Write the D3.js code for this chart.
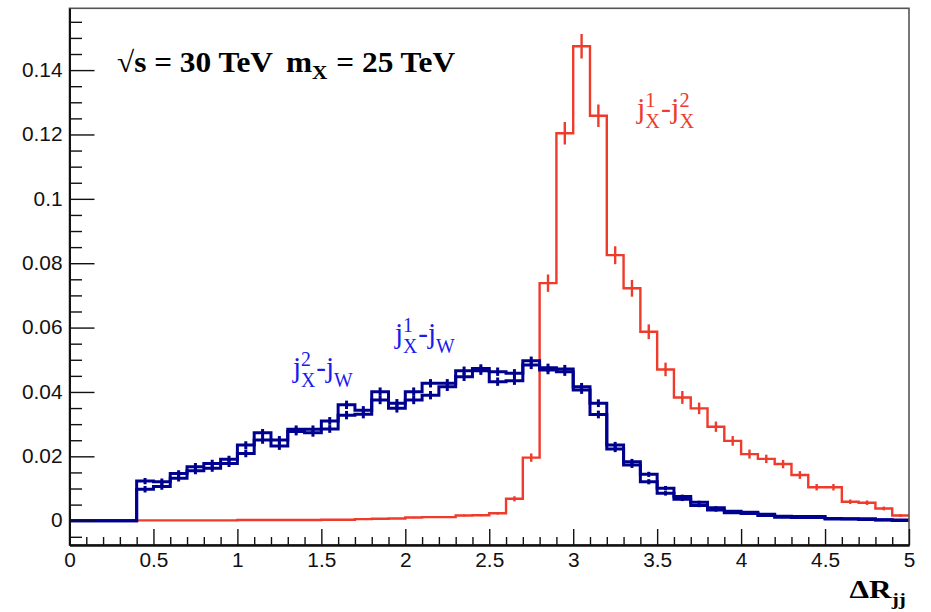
<!DOCTYPE html>
<html><head><meta charset="utf-8">
<script src="https://cdn.jsdelivr.net/npm/d3@7"></script>
<style>body{margin:0;background:#fff}svg{display:block}</style>
</head><body>
<svg id="c" width="931" height="612"></svg>
<script>
// ---- data ----
const binStart = [0.0,0.1,0.2,0.3,0.4,0.5,0.6,0.7,0.8,0.9,1.0,1.1,1.2,1.3,1.4,1.5,1.6,1.7,1.8,1.9,
  2.0,2.1,2.2,2.3,2.4,2.5,2.6,2.7,2.8,2.9,3.0,3.1,3.2,3.3,3.4,3.5,3.6,3.7,3.8,3.9,
  4.0,4.1,4.2,4.3,4.4,4.5,4.6,4.7,4.8,4.9];
const binWidth = 0.1;
const xMin = 0, xMax = 5;

// j_X^1 - j_X^2 (red)
const redVals = [0,0,0,0,0.0001,0.0001,0.0001,0.0001,0.0001,0.0001,
  0.0002,0.0002,0.0002,0.0002,0.0002,0.0003,0.0003,0.0005,0.0006,0.0007,
  0.0010,0.0011,0.0011,0.0016,0.0017,0.0023,0.0068,0.0196,0.0738,0.1204,
  0.1474,0.1258,0.0825,0.0722,0.0587,0.0470,0.0383,0.0349,0.0292,0.0248,
  0.0207,0.0192,0.0176,0.0142,0.0104,0.0104,0.0059,0.0056,0.0038,0.0016];
const redErr = [0,0,0,0,0,0,0,0,0,0,
  0,0,0,0,0,0,0,0,0,0,
  0.0002,0.0002,0.0002,0.0003,0.0003,0.0004,0.0008,0.0013,0.0027,0.0035,
  0.0038,0.0035,0.0028,0.0026,0.0023,0.0021,0.0020,0.0018,0.0016,0.0015,
  0.0014,0.0013,0.0013,0.0012,0.0010,0.0010,0.0007,0.0007,0.0006,0.0004];

// j_X^2 - j_W (blue)
const blueAVals = [0,0,0,0,0.0123,0.0121,0.0147,0.0168,0.0178,0.0191,
  0.0235,0.0273,0.0251,0.0284,0.0284,0.0310,0.0360,0.0343,0.0401,0.0365,
  0.0401,0.0427,0.0427,0.0466,0.0473,0.0463,0.0458,0.0497,0.0475,0.0471,
  0.0416,0.0365,0.0235,0.0183,0.0144,0.0101,0.0075,0.0057,0.0040,0.0029,
  0.0026,0.0020,0.0014,0.0013,0.0013,0.0007,0.0006,0.0006,0.0003,0.0002];
// j_X^1 - j_W (blue)
const blueBVals = [0,0,0,0,0.0098,0.0106,0.0132,0.0155,0.0163,0.0178,
  0.0209,0.0251,0.0232,0.0277,0.0273,0.0285,0.0328,0.0331,0.0375,0.0349,
  0.0375,0.0390,0.0416,0.0447,0.0466,0.0432,0.0435,0.0484,0.0468,0.0463,
  0.0406,0.0330,0.0223,0.0173,0.0121,0.0085,0.0067,0.0047,0.0033,0.0025,
  0.0022,0.0016,0.0011,0.0010,0.0010,0.0005,0.0005,0.0004,0.0002,0.0001];
const blueErr = [0,0,0,0,0.0010,0.0010,0.0010,0.0011,0.0011,0.0011,
  0.0012,0.0012,0.0012,0.0012,0.0012,0.0012,0.0013,0.0013,0.0013,0.0013,
  0.0013,0.0013,0.0013,0.0013,0.0013,0.0013,0.0013,0.0013,0.0013,0.0013,
  0.0012,0.0012,0.0010,0.0009,0.0008,0.0007,0.0006,0.0005,0.0005,0.0004,
  0.0004,0.0003,0.0003,0.0003,0.0003,0.0002,0.0002,0.0002,0.0001,0.0001];

const xMajorTicks = [0,0.5,1,1.5,2,2.5,3,3.5,4,4.5,5];
const xMajorLabels = ["0","0.5","1","1.5","2","2.5","3","3.5","4","4.5","5"];
const yMajorTicks = [0,0.02,0.04,0.06,0.08,0.1,0.12,0.14];
const yMajorLabels = ["0","0.02","0.04","0.06","0.08","0.1","0.12","0.14"];
const yDomain = [-0.00755, 0.1592];

// ---- layout ----
const L = 69.5, R = 909, T = 8.3, B = 545;
const RED = "#ee3b2b", DBLUE = "#00008f", LBLUE = "#1a1aee";
const SERIF = "'Liberation Serif','Times New Roman',Times,serif";
const SANS = "'Liberation Sans',Arial,Helvetica,sans-serif";
const SX = 1.07; // horizontal stretch of glyphs seen in the reference

const svg = d3.select("#c");
const x = d3.scaleLinear().domain([xMin, xMax]).range([L, R]);
const y = d3.scaleLinear().domain(yDomain).range([B, T]);

svg.append("rect").attr("width",931).attr("height",612).attr("fill","#fff");

svg.append("clipPath").attr("id","clip").append("rect")
  .attr("x",L).attr("y",T).attr("width",R-L).attr("height",B-T);
const plot = svg.append("g").attr("clip-path","url(#clip)");

function histPts(vals){
  const pts = binStart.map((b,i)=>[b, vals[i]]);
  pts.push([xMax, vals[vals.length-1]]);
  return pts;
}
const stepLine = d3.line().x(d=>x(d[0])).y(d=>y(d[1])).curve(d3.curveStepAfter);

function drawHist(vals, errs, color, lw){
  plot.append("path").attr("d", stepLine(histPts(vals)))
    .attr("fill","none").attr("stroke",color).attr("stroke-width",lw)
    .attr("stroke-linejoin","miter");
  plot.append("g").selectAll("line").data(binStart.map((b,i)=>({c:b+binWidth/2,v:vals[i],e:errs[i]})).filter(d=>d.e>0))
    .join("line")
    .attr("x1",d=>x(d.c)).attr("x2",d=>x(d.c))
    .attr("y1",d=>y(d.v-d.e)).attr("y2",d=>y(d.v+d.e))
    .attr("stroke",color).attr("stroke-width",lw);
}
drawHist(redVals, redErr, RED, 2.4);
drawHist(blueBVals, blueErr, DBLUE, 3);
drawHist(blueAVals, blueErr, DBLUE, 3);

// frame
svg.append("rect").attr("x",L).attr("y",T).attr("width",R-L).attr("height",B-T)
  .attr("fill","none").attr("stroke","#555").attr("stroke-width",1.6);

// axes
const xMinor = d3.range(0, 51).map(i=>i/10).filter(v=>Math.abs(v*2-Math.round(v*2))>1e-6);
const yMinor = d3.range(-1, 32).map(i=>i*0.005).filter(v=>Math.abs(v/0.02-Math.round(v/0.02))>1e-6);

function styleAxis(g){
  g.select(".domain").attr("stroke","#111").attr("stroke-width",1.8);
  g.selectAll(".tick line").attr("stroke","#111").attr("stroke-width",1.4);
  g.selectAll(".tick text").attr("fill","#111").style("font-family",SANS).style("font-size","19.5px")
    .attr("transform",`scale(${SX},1)`);
}
const gx = svg.append("g").attr("transform",`translate(0,${B})`);
gx.append("g").call(d3.axisBottom(x).tickValues(xMinor).tickSize(-8).tickSizeOuter(0).tickFormat(""))
  .call(styleAxis);
gx.append("g").call(d3.axisBottom(x).tickValues(xMajorTicks).tickSize(-16).tickSizeOuter(0).tickPadding(8)
  .tickFormat((d,i)=>xMajorLabels[i])).call(styleAxis);

const gy = svg.append("g").attr("transform",`translate(${L},0)`);
gy.append("g").call(d3.axisLeft(y).tickValues(yMinor).tickSize(-12.5).tickSizeOuter(0).tickFormat(""))
  .call(styleAxis);
gy.append("g").call(d3.axisLeft(y).tickValues(yMajorTicks).tickSize(-25).tickSizeOuter(0).tickPadding(6.5)
  .tickFormat((d,i)=>yMajorLabels[i])).call(styleAxis);

// ---- latex-like text helper ----
function latex(x0, base, tokens, color, fs, weight, sx, anchorRight){
  const outer = svg.append("g");
  const g = outer.append("g");
  let cx = 0;
  const sfs = fs*0.68;
  tokens.forEach(tok=>{
    if (tok.gap){ cx += tok.gap; return; }
    if (tok.n !== undefined){
      const t = g.append("text").attr("x",cx).attr("y",0).attr("fill",color)
        .style("font-family",SERIF).style("font-size",fs+"px").style("font-weight",weight)
        .style("white-space","pre").text(tok.n);
      cx += t.node().getComputedTextLength();
    } else {
      let w = 0;
      if (tok.sup){
        const t = g.append("text").attr("x",cx).attr("y",-fs*0.38).attr("fill",color)
          .style("font-family",SERIF).style("font-size",sfs+"px").style("font-weight",weight).text(tok.sup);
        w = Math.max(w, t.node().getComputedTextLength());
      }
      if (tok.sub){
        const t = g.append("text").attr("x",cx).attr("y",fs*(tok.subShift||0.32)).attr("fill",color)
          .style("font-family",SERIF).style("font-size",(tok.subFs||sfs)+"px").style("font-weight",weight).text(tok.sub);
        w = Math.max(w, t.node().getComputedTextLength());
      }
      cx += w + 1;
    }
  });
  g.attr("transform",`scale(${sx},1)`);
  const tx = anchorRight ? x0 - cx*sx : x0;
  outer.attr("transform",`translate(${tx},${base})`);
  return outer;
}

// title
latex(117, 72, [{n:"\u221As = 30 TeV"},{gap:12},{n:"m"},{sub:"X", subShift:0.25}, {n:" = 25 TeV"}], "#000", 29, "bold", 1.08);
// axis title
latex(907, 598, [{n:"\u0394R"},{sub:"jj", subShift:0.27}], "#000", 26, "bold", 1.2, true);

// series labels
latex(637, 118, [{n:"j"},{sup:"1",sub:"X"},{n:"-j"},{sup:"2",sub:"X"}], RED, 30, "normal", 1.0);
latex(293, 377, [{n:"j"},{sup:"2",sub:"X"},{n:"-j"},{sub:"W"}], LBLUE, 30, "normal", 0.97);
latex(395, 343, [{n:"j"},{sup:"1",sub:"X"},{n:"-j"},{sub:"W"}], LBLUE, 30, "normal", 0.97);
</script>
</body></html>
